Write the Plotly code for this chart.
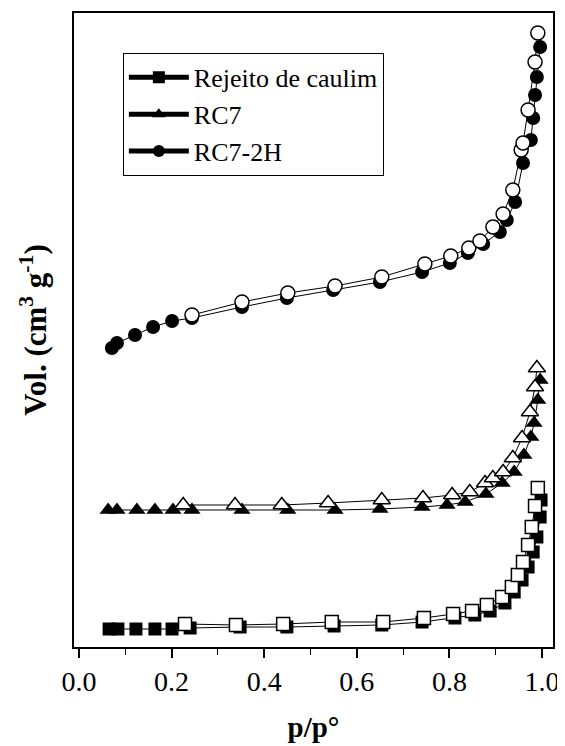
import plotly.graph_objects as go

# Rejeito de caulim (squares)
rc_ads_x = [0.065, 0.084, 0.123, 0.164, 0.201, 0.240, 0.348, 0.449, 0.551, 0.654, 0.741, 0.812, 0.855, 0.888, 0.920, 0.940, 0.957, 0.970, 0.981, 0.989, 0.996, 0.998]
rc_ads_y = [1.8, 1.8, 1.8, 1.8, 1.8, 1.9, 2.0, 2.0, 2.1, 2.2, 2.5, 2.9, 3.2, 3.6, 4.4, 5.5, 6.7, 8.0, 9.5, 11.0, 13.0, 14.7]
rc_des_x = [0.229, 0.339, 0.441, 0.546, 0.657, 0.745, 0.808, 0.849, 0.881, 0.914, 0.935, 0.948, 0.959, 0.970, 0.978, 0.985, 0.991]
rc_des_y = [2.3, 2.2, 2.3, 2.5, 2.5, 2.9, 3.3, 3.6, 4.2, 5.0, 6.0, 7.2, 8.5, 10.2, 12.0, 14.1, 15.9]

# RC7 (triangles)
rc7_ads_x = [0.063, 0.082, 0.125, 0.164, 0.203, 0.244, 0.352, 0.451, 0.553, 0.650, 0.741, 0.795, 0.834, 0.879, 0.914, 0.940, 0.961, 0.976, 0.983, 0.991, 0.996]
rc7_ads_y = [13.7, 13.7, 13.7, 13.7, 13.7, 13.7, 13.7, 13.7, 13.7, 13.8, 14.0, 14.2, 14.5, 15.3, 16.4, 17.5, 19.2, 21.0, 22.4, 24.7, 26.7]
rc7_des_x = [0.225, 0.337, 0.438, 0.538, 0.654, 0.743, 0.806, 0.844, 0.877, 0.894, 0.916, 0.937, 0.957, 0.974, 0.985, 0.989]
rc7_des_y = [14.2, 14.2, 14.2, 14.4, 14.7, 14.9, 15.2, 15.5, 16.4, 16.9, 17.5, 18.9, 20.9, 23.5, 26.0, 27.9]

# RC7-2H (circles)
rc72h_ads_x = [0.071, 0.082, 0.121, 0.160, 0.201, 0.244, 0.352, 0.449, 0.549, 0.650, 0.741, 0.801, 0.840, 0.873, 0.909, 0.924, 0.942, 0.959, 0.976, 0.981, 0.985, 0.989, 0.996]
rc72h_ads_y = [29.9, 30.4, 31.2, 32.0, 32.6, 32.9, 34.0, 34.9, 35.7, 36.5, 37.5, 38.4, 39.4, 40.3, 41.5, 42.7, 44.5, 48.4, 50.7, 52.9, 55.2, 57.0, 60.0]
rc72h_des_x = [0.244, 0.352, 0.451, 0.553, 0.654, 0.747, 0.803, 0.842, 0.866, 0.894, 0.916, 0.937, 0.955, 0.959, 0.970, 0.985, 0.991]
rc72h_des_y = [33.2, 34.5, 35.4, 36.1, 37.0, 38.3, 39.1, 39.9, 40.6, 42.0, 43.3, 45.7, 49.7, 50.4, 53.7, 58.5, 61.4]

names = ["Rejeito de caulim", "RC7", "RC7-2H"]
x_ticks = [0.0, 0.2, 0.4, 0.6, 0.8, 1.0]

SERIF = "Liberation Serif, Times New Roman, serif"

series = [
    (names[0], "square", 13, rc_ads_x, rc_ads_y, rc_des_x, rc_des_y),
    (names[1], "triangle-up", 15, rc7_ads_x, rc7_ads_y, rc7_des_x, rc7_des_y),
    (names[2], "circle", 14, rc72h_ads_x, rc72h_ads_y, rc72h_des_x, rc72h_des_y),
]

fig = go.Figure()
for name, sym, size, ax, ay, dx, dy in series:
    fig.add_trace(go.Scatter(
        x=ax, y=ay, mode="lines+markers", name=name,
        line=dict(color="black", width=1),
        marker=dict(symbol=sym, size=size, color="black", line=dict(width=0)),
        showlegend=True,
    ))
for name, sym, size, ax, ay, dx, dy in series:
    fig.add_trace(go.Scatter(
        x=dx, y=dy, mode="lines+markers", name=name + " (des.)",
        line=dict(color="black", width=1),
        marker=dict(symbol=sym, size=size, color="white", line=dict(width=1.5, color="black")),
        showlegend=False,
    ))

# the page body adds an 8px margin, so the canvas is 8px smaller each way
fig.update_layout(
    width=557, height=738,
    margin=dict(l=66, r=12, t=5, b=99, autoexpand=False),
    paper_bgcolor="white", plot_bgcolor="white",
    font=dict(family=SERIF, color="black"),
    showlegend=True,
    legend=dict(
        x=0.102, y=0.937, xanchor="left", yanchor="top",
        bgcolor="white", bordercolor="black", borderwidth=1,
        font=dict(family=SERIF, size=26, color="black"),
        tracegroupgap=0, itemsizing="constant", itemwidth=60,
    ),
    xaxis=dict(
        range=[-0.0108, 1.0238], automargin=False,
        tickvals=x_ticks, ticktext=[f"{v:.1f}" for v in x_ticks],
        ticks="outside", ticklen=9, tickwidth=1.5, tickcolor="black",
        minor=dict(ticks="outside", ticklen=6, tickwidth=1.2, tickcolor="black", dtick=0.1, tick0=0),
        showline=True, linecolor="black", linewidth=1.5, mirror=True,
        showgrid=False, zeroline=False,
        tickfont=dict(family=SERIF, size=28, color="black"),
        title=dict(text="<b>p/p°</b>", font=dict(family=SERIF, size=29, color="black"), standoff=20),
    ),
    yaxis=dict(
        range=[0, 63.4], automargin=False,
        showticklabels=False, ticks="",
        showline=True, linecolor="black", linewidth=1.5, mirror=True,
        showgrid=False, zeroline=False,
        title=dict(text="<b>Vol. (cm<sup>3</sup> g<sup>-1</sup>)</b>", font=dict(family=SERIF, size=31, color="black"), standoff=16),
    ),
)

fig.write_html("out.html")
